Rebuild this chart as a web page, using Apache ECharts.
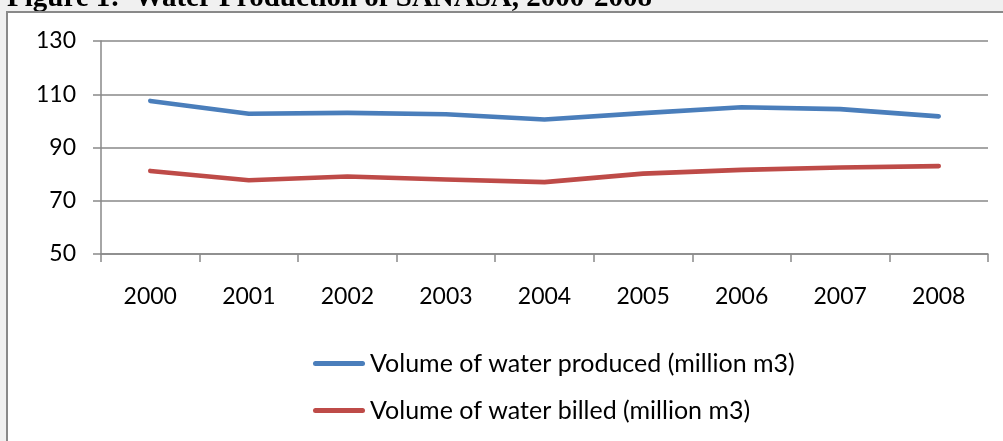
<!DOCTYPE html>
<html>
<head>
<meta charset="utf-8">
<script src="https://cdn.jsdelivr.net/npm/echarts@6/dist/echarts.min.js"></script>
<style>
  html, body { margin: 0; padding: 0; background: #f0f0f0; }
  #chart { width: 1003px; height: 441px; }
</style>
</head>
<body>
<div id="chart"></div>
<script>
// Water production and billing, SANASA, 2000-2008 (million m3)
const years = ['2000', '2001', '2002', '2003', '2004', '2005', '2006', '2007', '2008'];
const produced = [107.5, 102.7, 103.0, 102.5, 100.5, 102.9, 105.1, 104.4, 101.7];
const billed = [81.2, 77.7, 79.1, 78.0, 77.0, 80.2, 81.6, 82.5, 83.0];
const seriesNames = ['Volume of water produced (million m3)', 'Volume of water billed (million m3)'];
const yTicks = { min: 50, max: 130, step: 20 };

const labelFont = 'Lato, "Noto Sans", sans-serif';
const axisGray = '#898989';
// legend key drawn as a short thick stroke with rounded ends
const capsule = 'path://M2.5,0 H49.5 A2.5,2.5 0 0 1 49.5,5 H2.5 A2.5,2.5 0 0 1 2.5,0 Z';

const chart = echarts.init(document.getElementById('chart'), null, { renderer: 'canvas' });

chart.setOption({
  backgroundColor: '#f0f0f0',
  animation: false,
  graphic: [
    {
      type: 'text',
      z: -20,
      style: {
        x: 7,
        y: -1,
        text: 'Figure 1:  Water Production of SANASA, 2000-2008',
        font: 'bold 29px "Liberation Serif", "Times New Roman", serif',
        fill: '#000',
        verticalAlign: 'middle'
      }
    },
    {
      type: 'rect',
      z: -10,
      shape: { x: 7, y: 12, width: 1010, height: 440 },
      style: { fill: '#ffffff', stroke: axisGray, lineWidth: 2 }
    }
  ],
  grid: { left: 101, right: 15, top: 41, bottom: 187, containLabel: false },
  xAxis: {
    type: 'category',
    data: years,
    boundaryGap: true,
    axisLine: { lineStyle: { color: axisGray, width: 1.5 } },
    axisTick: { show: true, length: 8, lineStyle: { color: axisGray, width: 1.5 } },
    axisLabel: { color: '#000', fontFamily: labelFont, fontSize: 23, margin: 31 },
    splitLine: { show: false }
  },
  yAxis: {
    type: 'value',
    min: yTicks.min,
    max: yTicks.max,
    interval: yTicks.step,
    axisLine: { show: true, lineStyle: { color: axisGray, width: 1.5 } },
    axisTick: { show: true, length: 8, lineStyle: { color: axisGray, width: 1.5 } },
    axisLabel: { color: '#000', fontFamily: labelFont, fontSize: 23, margin: 25 },
    splitLine: { show: true, lineStyle: { color: axisGray, width: 1.5 } }
  },
  legend: {
    orient: 'vertical',
    left: 313,
    top: 351,
    padding: 0,
    itemWidth: 52,
    itemHeight: 5,
    itemGap: 22,
    icon: capsule,
    textStyle: { color: '#000', fontFamily: labelFont, fontSize: 25 },
    data: seriesNames
  },
  series: [
    {
      name: seriesNames[0],
      type: 'line',
      data: produced,
      symbol: 'none',
      color: '#4a7ebb',
      lineStyle: { color: '#4a7ebb', width: 4.6, cap: 'round', join: 'round' }
    },
    {
      name: seriesNames[1],
      type: 'line',
      data: billed,
      symbol: 'none',
      color: '#be4b48',
      lineStyle: { color: '#be4b48', width: 4.6, cap: 'round', join: 'round' }
    }
  ]
});
</script>
</body>
</html>
